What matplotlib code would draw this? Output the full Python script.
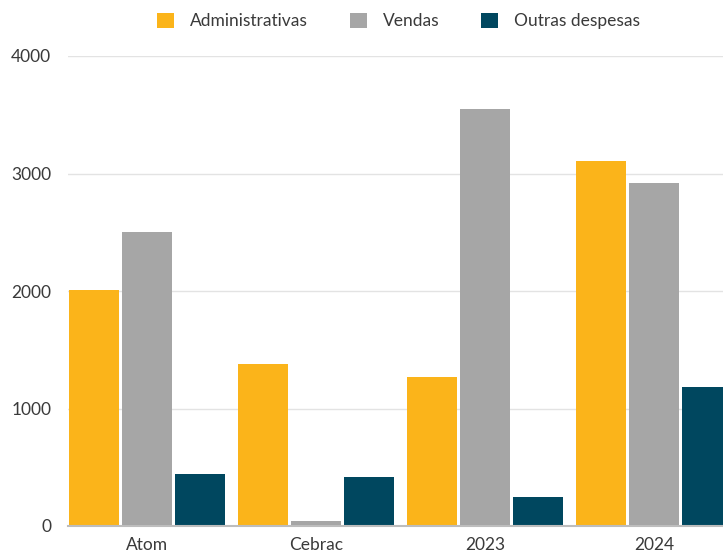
import matplotlib
matplotlib.use('Agg')
import matplotlib.pyplot as plt
import numpy as np

# Chart data
categories = ['Atom', 'Cebrac', '2023', '2024']
administrativas = [2010, 1380, 1270, 3110]
vendas = [2500, 45, 3550, 2920]
outras_despesas = [440, 420, 250, 1180]

series_names = ['Administrativas', 'Vendas', 'Outras despesas']
colors = ['#FBB41A', '#A6A6A6', '#00475F']

plt.rcParams['font.family'] = ['Lato', 'DejaVu Sans']

fig = plt.figure(figsize=(7.23, 5.54), dpi=100)
ax = fig.add_axes([68 / 723, 28 / 554, 1 - 68 / 723, 470 / 554])

x = np.arange(len(categories))
width = 0.296
step = 0.314

for i, (vals, name, col) in enumerate(zip([administrativas, vendas, outras_despesas], series_names, colors)):
    ax.bar(x + (i - 1) * step, vals, width=width, color=col, label=name, zorder=3)

ax.set_ylim(0, 4000)
ax.set_yticks([0, 1000, 2000, 3000, 4000])
ax.set_xlim(-0.467, 3.408)
ax.set_xticks(x)
ax.set_xticklabels(categories)

ax.grid(axis='y', color='#E3E3E3', linewidth=1, zorder=0)
for s in ['top', 'right', 'left']:
    ax.spines[s].set_visible(False)
ax.spines['bottom'].set_color('#BDBDBD')
ax.spines['bottom'].set_linewidth(1.5)
ax.spines['bottom'].set_zorder(4)
ax.tick_params(axis='both', length=0, labelsize=12.5, colors='#3A3A3A')
ax.tick_params(axis='y', pad=12)
ax.tick_params(axis='x', pad=8)

fig.legend(loc='center', bbox_to_anchor=(0.551, 0.962), ncol=3, frameon=False,
           fontsize=12.5, handlelength=1.0, handleheight=1.0, columnspacing=2.4,
           handletextpad=0.9, labelcolor='#3A3A3A')

plt.savefig('out.png', dpi=100)
